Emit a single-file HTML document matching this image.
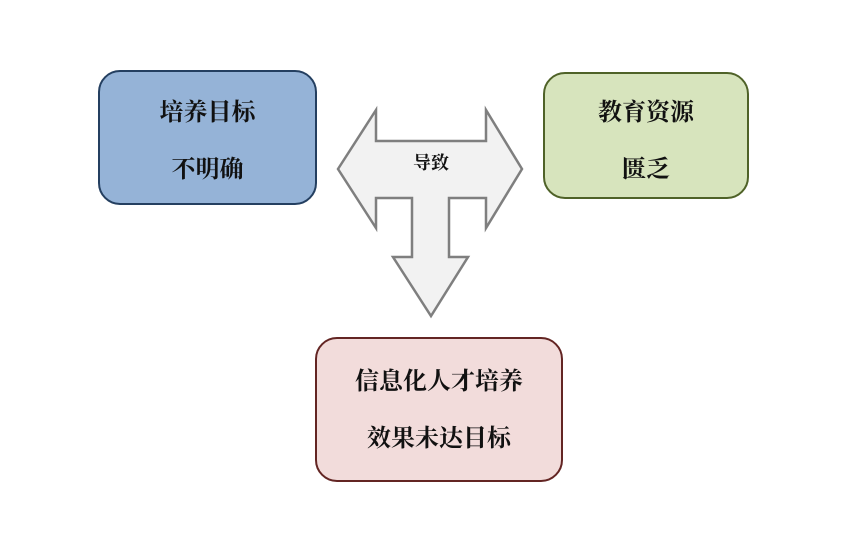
<!DOCTYPE html>
<html><head><meta charset="utf-8"><style>
body{margin:0;width:852px;height:534px;background:#fff;position:relative;overflow:hidden;font-family:"Liberation Serif","Noto Serif CJK SC","Noto Sans CJK SC",serif;}
.b{position:absolute;box-sizing:border-box;border-radius:22px;border:2px solid;display:flex;flex-direction:column;justify-content:center;align-items:center;font-size:24px;font-weight:bold;color:#111;}
.b div{line-height:57px;}
</style></head><body>
<div class="b" style="left:98px;top:70px;width:219px;height:135px;background:#95b3d7;border-color:#243f60;padding-top:8px;"><div>培养目标</div><div>不明确</div></div>
<div class="b" style="left:543px;top:72px;width:206px;height:127px;background:#d7e4bd;border-color:#4f6228;padding-top:12px;"><div>教育资源</div><div>匮乏</div></div>
<div class="b" style="left:315px;top:337px;width:248px;height:145px;background:#f2dcdb;border-color:#632523;padding-top:2px;"><div>信息化人才培养</div><div>效果未达目标</div></div>
<svg width="852" height="534" style="position:absolute;left:0;top:0">
<polygon points="338,169 376,110 376,141 486,141 486,110 522,169 486,228 486,198 449,198 449,257 468,257 431,316 393,257 412,257 412,198 376,198 376,228" fill="#f2f2f2" stroke="#7f7f7f" stroke-width="2.5" stroke-linejoin="miter"/>
<text x="431" y="169" font-size="18" font-weight="bold" text-anchor="middle" font-family="Liberation Serif, Noto Serif CJK SC, serif" fill="#111">导致</text>
</svg>
</body></html>
